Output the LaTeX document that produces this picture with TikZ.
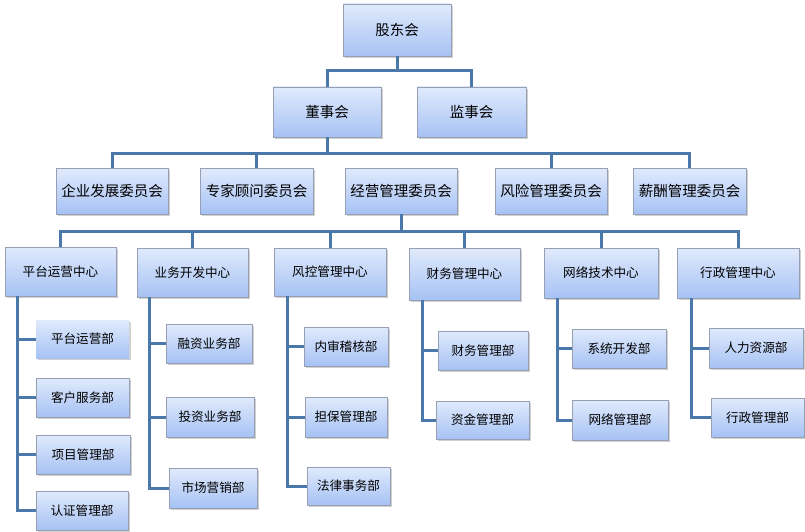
\documentclass[tikz,border=0pt]{standalone}
\usepackage{fontspec}
\newfontfamily\cjk{Noto Sans CJK SC}
\usetikzlibrary{shadows}
\definecolor{linec}{RGB}{74,120,170}
\definecolor{boxtop}{RGB}{224,234,252}
\definecolor{boxbot}{RGB}{166,194,244}
\definecolor{boxedge}{RGB}{150,160,178}
\tikzset{
  orgbox/.style={draw=boxedge, line width=0.8pt, top color=boxtop, bottom color=boxbot,
    drop shadow={shadow xshift=1.5pt, shadow yshift=-1.8pt, opacity=0.3, fill=black!60},
    inner sep=0pt, align=center},
  bigt/.style={font=\cjk\fontsize{14.5}{16}\selectfont},
  smallt/.style={font=\cjk\fontsize{12.6}{14}\selectfont},
  conn/.style={draw=linec, line width=3pt}
}
\begin{document}
\begin{tikzpicture}[x=1pt,y=-1pt]
\path[use as bounding box, fill=white] (0,0) rectangle (805,532);
% level 0, 1
\node[orgbox,bigt,minimum width=108pt,minimum height=52pt] (gd) at (397,30) {股东会};
\node[orgbox,bigt,minimum width=108pt,minimum height=50pt] (dsh) at (327,112) {董事会};
\node[orgbox,bigt,minimum width=109pt,minimum height=50pt] (jsh) at (471.5,112) {监事会};
% level 2
\node[orgbox,bigt,minimum width=112pt,minimum height=46pt] (c1) at (112,191) {企业发展委员会};
\node[orgbox,bigt,minimum width=113pt,minimum height=46pt] (c2) at (256.5,191) {专家顾问委员会};
\node[orgbox,bigt,minimum width=112pt,minimum height=46pt] (c3) at (401,191) {经营管理委员会};
\node[orgbox,bigt,minimum width=112pt,minimum height=46pt] (c4) at (551,191) {风险管理委员会};
\node[orgbox,bigt,minimum width=113pt,minimum height=46pt] (c5) at (689.5,191) {薪酬管理委员会};
% level 3
\node[orgbox,smallt,minimum width=111pt,minimum height=49pt] (m1) at (60.5,271.5) {平台运营中心};
\node[orgbox,smallt,minimum width=111pt,minimum height=49pt] (m2) at (192.5,272.5) {业务开发中心};
\node[orgbox,smallt,minimum width=112pt,minimum height=48pt] (m3) at (330,272) {风控管理中心};
\node[orgbox,smallt,minimum width=111pt,minimum height=52pt] (m4) at (464.5,274) {财务管理中心};
\node[orgbox,smallt,minimum width=114pt,minimum height=50pt] (m5) at (601,273) {网络技术中心};
\node[orgbox,smallt,minimum width=122pt,minimum height=50pt] (m6) at (738,273) {行政管理中心};
% level 4
\node[orgbox,smallt,draw=none,minimum width=93pt,minimum height=38pt] (s11) at (82.5,339) {平台运营部};
\node[orgbox,smallt,minimum width=93pt,minimum height=39pt] (s12) at (82.5,397.5) {客户服务部};
\node[orgbox,smallt,minimum width=94pt,minimum height=39pt] (s13) at (83,454.5) {项目管理部};
\node[orgbox,smallt,minimum width=92pt,minimum height=39pt] (s14) at (82,510.5) {认证管理部};
\node[orgbox,smallt,minimum width=86pt,minimum height=39pt] (s21) at (209,343.5) {融资业务部};
\node[orgbox,smallt,minimum width=88pt,minimum height=40pt] (s22) at (210,417) {投资业务部};
\node[orgbox,smallt,minimum width=88pt,minimum height=40pt] (s23) at (213,488) {市场营销部};
\node[orgbox,smallt,minimum width=84pt,minimum height=39pt] (s31) at (346,346.5) {内审稽核部};
\node[orgbox,smallt,minimum width=82pt,minimum height=40pt] (s32) at (346,417) {担保管理部};
\node[orgbox,smallt,minimum width=83pt,minimum height=38pt] (s33) at (348.5,486) {法律事务部};
\node[orgbox,smallt,minimum width=90pt,minimum height=39pt] (s41) at (483,350.5) {财务管理部};
\node[orgbox,smallt,minimum width=93pt,minimum height=38pt] (s42) at (482.5,420) {资金管理部};
\node[orgbox,smallt,minimum width=94pt,minimum height=39pt] (s51) at (619,348.5) {系统开发部};
\node[orgbox,smallt,minimum width=96pt,minimum height=40pt] (s52) at (620,420) {网络管理部};
\node[orgbox,smallt,minimum width=94pt,minimum height=40pt] (s61) at (756,348) {人力资源部};
\node[orgbox,smallt,minimum width=93pt,minimum height=39pt] (s62) at (757.5,417.5) {行政管理部};
% bus coordinates
\coordinate (b0) at (0,71);
\coordinate (b1) at (0,153);
\coordinate (b2) at (0,231);
\coordinate (v1) at (17,0);
\coordinate (v2) at (149,0);
\coordinate (v3) at (287,0);
\coordinate (v4) at (422,0);
\coordinate (v5) at (557,0);
\coordinate (v6) at (691,0);
% connectors level 0-1
\draw[conn] (gd.south) -- (gd.south |- b0);
\draw[conn] (dsh.north) |- (jsh.north |- b0) -- (jsh.north);
% level 1-2
\draw[conn] (dsh.south) -- (dsh.south |- b1);
\draw[conn] (c1.north) |- (c5.north |- b1) -- (c5.north);
\draw[conn] (c2.north) -- (c2.north |- b1);
\draw[conn] (c4.north) -- (c4.north |- b1);
% level 2-3
\draw[conn] (c3.south) -- (c3.south |- b2);
\draw[conn] (m1.north) |- (m6.north |- b2) -- (m6.north);
\draw[conn] (m2.north) -- (m2.north |- b2);
\draw[conn] (m3.north) -- (m3.north |- b2);
\draw[conn] (m4.north) -- (m4.north |- b2);
\draw[conn] (m5.north) -- (m5.north |- b2);
% level 3-4
\draw[conn] (m1.south -| v1) |- (s14.west);
\draw[conn] (v1 |- s11.west) -- (s11.west);
\draw[conn] (v1 |- s12.west) -- (s12.west);
\draw[conn] (v1 |- s13.west) -- (s13.west);
\draw[conn] (m2.south -| v2) |- (s23.west);
\draw[conn] (v2 |- s21.west) -- (s21.west);
\draw[conn] (v2 |- s22.west) -- (s22.west);
\draw[conn] (m3.south -| v3) |- (s33.west);
\draw[conn] (v3 |- s31.west) -- (s31.west);
\draw[conn] (v3 |- s32.west) -- (s32.west);
\draw[conn] (m4.south -| v4) |- (s42.west);
\draw[conn] (v4 |- s41.west) -- (s41.west);
\draw[conn] (m5.south -| v5) |- (s52.west);
\draw[conn] (v5 |- s51.west) -- (s51.west);
\draw[conn] (m6.south -| v6) |- (s62.west);
\draw[conn] (v6 |- s61.west) -- (s61.west);
\end{tikzpicture}
\end{document}
